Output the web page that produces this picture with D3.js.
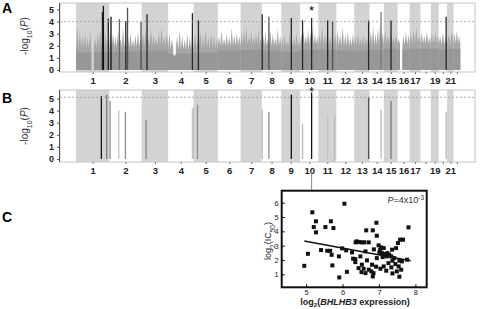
<!DOCTYPE html>
<html>
<head>
<meta charset="utf-8">
<script src="https://cdnjs.cloudflare.com/ajax/libs/d3/7.8.5/d3.min.js"></script>
<style>
  body { margin: 0; background: #fff; }
  svg { display: block; font-family: Arial, "Liberation Sans", sans-serif; }
</style>
</head>
<body>
<div id="chart"></div>
<script>
"use strict"

// chromosome lengths (Mb) and labels
let chromLengths = [249, 243, 198, 191, 181, 171, 159, 146, 141, 136, 135, 134, 115, 107, 103, 90, 81, 78, 59, 63, 48, 51];
let chromLabels = ["1", "2", "3", "4", "5", "6", "7", "8", "9", "10", "11", "12", "13", "14", "15", "16", "17", "", "19", "", "21", ""];

// panel A dense background: base level and local peaks per chromosome
let denseBase = [1.8, 1.9, 2.0, 1.7, 1.8, 2.0, 2.1, 2.0, 1.9, 2.1, 2.1, 2.0, 2.0, 2.1, 2.2, 2.1, 2.2, 2.2, 2.2, 2.1, 2.2, 2.2];
let densePeaks = [
    [3.6, 3.2, 2.9, 3.1, 2.7, 3.3, 0, 2.7, 3.1, 3.4, 3.0, 3.2, 2.6],
    [3.4, 3.0, 2.8, 3.2, 2.6, 3.5, 2.9, 2.7, 3.1, 2.5, 2.9, 3.2, 2.6],
    [3.0, 3.3, 2.7, 3.4, 2.9, 2.6, 3.1, 3.5, 2.8, 3.0],
    [3.1, 2.6, 1.2, 2.8, 3.3, 2.9, 2.5, 3.0, 2.7, 3.2],
    [3.0, 2.6, 3.2, 2.8, 3.4, 2.7, 3.1, 2.9, 2.6],
    [2.8, 3.3, 2.6, 3.0, 2.7, 3.5, 2.9, 3.1, 2.8],
    [3.0, 3.4, 3.6, 2.8, 3.2, 2.7, 3.0, 3.3, 2.6],
    [2.9, 3.2, 2.6, 3.3, 3.0, 2.7, 3.4, 2.8],
    [2.7, 2.9, 2.4, 3.0, 2.6, 2.8, 3.1, 2.5],
    [3.0, 3.2, 2.9, 3.4, 3.1, 3.6, 3.0, 2.8],
    [3.0, 3.5, 2.9, 3.3, 2.8, 3.2, 3.0],
    [3.3, 3.0, 3.6, 2.9, 3.2, 2.7, 3.0],
    [2.8, 3.1, 2.6, 3.0, 2.7, 2.9],
    [3.2, 3.6, 3.0, 3.4, 4.0, 3.1],
    [3.2, 2.9, 3.3, 2.7, 3.0],
    [2.6, 0, 2.8, 3.2, 2.9],
    [3.0, 3.3, 3.5, 2.9],
    [3.1, 2.8, 3.2, 2.7],
    [3.2, 2.9, 3.3, 2.8],
    [2.8, 3.1, 2.7],
    [2.9, 3.2],
    [3.1, 3.3, 2.8]
];

// panel A highlighted SNPs (chromosome, position Mb, -log10 P, shade 0 dark .. 1 light)
let hitChrA  = [1, 1, 1, 2, 2, 2, 2, 2, 3, 4, 5, 8, 8, 9, 10, 10, 11, 11, 13, 14, 15, 20];
let hitPosA  = [198, 205, 242, 13, 76, 124, 137, 238, 40, 182, 36, 3, 53, 75, 18, 86, 70, 107, 108, 86, 54, 56];
let hitValA  = [4.8, 5.3, 4.25, 4.4, 4.2, 4.05, 5.15, 4.0, 4.6, 4.7, 4.1, 4.6, 4.4, 4.3, 4.1, 4.3, 4.1, 4.0, 4.1, 4.8, 4.1, 4.4];
let hitToneA = [0.1, 0, 0.1, 0, 0.4, 0.1, 0.3, 0.3, 0.1, 0.1, 0.1, 0.1, 0.3, 0.1, 0.1, 0.1, 0.1, 0.3, 0.1, 0.5, 0.1, 0.1];

// panel B SNPs
let hitChrB  = [1, 1, 2, 2, 2, 3, 4, 4, 5, 8, 8, 9, 10, 10, 11, 11, 13, 14, 15, 20];
let hitPosB  = [190, 230, 6, 71, 121, 33, 182, 189, 29, 3, 53, 75, 18, 86, 70, 122, 108, 86, 54, 56];
let hitValB  = [5.2, 5.3, 4.8, 4.0, 3.9, 3.2, 4.1, 4.3, 4.5, 4.1, 3.9, 5.3, 2.9, 5.5, 3.7, 3.6, 5.1, 4.1, 4.8, 3.9];
let hitToneB = [0, 0.5, 0.6, 0.85, 0.6, 0.55, 0.85, 0.85, 0.6, 0.8, 0.6, 0, 0.8, 0, 0.85, 0.8, 0.3, 0.8, 0.5, 0.8];

let thresholdA = 4.0;
let thresholdB = 5.1;
let markedChr = 10, markedPos = 86;

// panel C scatter: log2 BHLHB3 expression vs log2 IC50
let exprX = [6.05, 5.17, 5.27, 5.68, 5.21, 5.53, 5.75, 5.27, 6.36, 5.99, 6.10, 5.41, 5.58, 5.66, 5.05, 5.70, 5.90, 6.29, 6.35, 4.95, 5.72, 6.12, 5.91,
    7.81, 6.65, 6.83, 6.93, 6.94, 6.39, 6.46, 6.53, 6.60, 6.72, 7.58, 7.66, 7.52, 6.99, 7.06, 7.13, 7.03, 6.86, 6.63, 7.36, 7.47, 6.26,
    7.01, 7.08, 7.15, 7.23, 7.28, 7.21, 7.34, 7.42, 7.10, 6.94, 6.49, 6.35, 6.67, 7.37, 7.56, 7.63, 7.77, 7.26, 7.45, 6.81, 6.53, 6.44,
    6.58, 6.92, 7.04, 7.13, 7.54, 7.34, 6.72, 6.79, 6.85, 7.20, 7.37, 7.49, 7.61, 6.63, 6.52, 6.83, 7.56];
let ic50Y = [5.93, 5.33, 4.70, 4.70, 4.30, 4.30, 4.23, 3.93, 3.23, 2.81, 2.67, 2.69, 2.64, 2.64, 2.43, 2.36, 2.25, 2.09, 1.85, 1.59, 1.62, 1.17, 0.78,
    4.28, 4.07, 4.07, 4.60, 3.69, 3.30, 3.25, 3.23, 3.23, 3.23, 3.42, 3.42, 3.18, 3.02, 2.88, 2.83, 2.69, 2.74, 2.60, 2.72, 2.83, 2.53,
    2.53, 2.48, 2.41, 2.48, 2.37, 2.25, 2.25, 2.13, 2.20, 2.13, 2.25, 2.06, 1.97, 1.95, 1.95, 1.90, 2.02, 1.78, 1.71, 1.67, 1.67, 1.43,
    1.39, 1.53, 1.39, 1.55, 1.55, 1.48, 1.32, 1.20, 1.08, 1.25, 1.06, 1.20, 1.32, 1.08, 1.15, 0.85, 0.83];
let fitX = [4.95, 7.87];
let fitY = [3.32, 1.94];

let yTicksAB = [0, 1, 2, 3, 4, 5];
let xTicksC = [5, 6, 7, 8];
let yTicksC = [1, 2, 3, 4, 5, 6];

// ---------------------------------------------------------------
let svg = d3.select("#chart").append("svg")
    .attr("width", 480)
    .attr("height", 309);

let chromStart = [];
let acc = 0;
for (let len of chromLengths) {
    chromStart.push(acc);
    acc += len;
}
let genomeLength = acc;

let x = d3.scaleLinear()
    .domain([-120, genomeLength + 110])
    .range([60, 475]);

let shade = d3.scaleLinear()
    .domain([0, 1])
    .range(["#111111", "#e2e2e2"]);

let intFmt = d3.format("d");

function gpos(chr, pos) {
    return chromStart[chr - 1] + pos;
}

function drawManhattan(top, bottom, y, showDense, chrs, poss, vals, tones, threshold, label, labelY) {
    let g = svg.append("g");

    // shaded odd chromosomes
    chromLengths.forEach(function(len, i) {
        if (i % 2 === 0 && i < 21) {
            g.append("rect")
                .attr("x", x(chromStart[i]))
                .attr("y", top)
                .attr("width", x(chromStart[i] + len) - x(chromStart[i]))
                .attr("height", bottom - top)
                .style("fill", "#d3d3d3");
        }
    });

    if (showDense) {
        // spiky dense area built from bin peaks
        chromLengths.forEach(function(len, i) {
            let pts = [];
            let peaks = densePeaks[i];
            let w = len / peaks.length;
            for (let j = 0; j < peaks.length; j++) {
                let s = chromStart[i] + j * w;
                let base = Math.min(denseBase[i], peaks[j]);
                pts.push([s, base]);
                pts.push([s + w * 0.5, peaks[j]]);
                pts.push([s + w, base]);
            }
            let area = d3.area()
                .x(d => x(d[0]))
                .y0(y(0))
                .y1(d => y(d[1]));
            g.append("path")
                .attr("d", area(pts))
                .style("fill", "#a6a6a6");
            // solid lower part
            g.append("path")
                .attr("d", area(pts.map(d => [d[0], Math.min(d[1], denseBase[i] * 0.8)])))
                .style("fill", "#979797");
        });
    }

    // highlighted SNP lines
    for (let k = 0; k < chrs.length; k++) {
        let px = x(gpos(chrs[k], poss[k]));
        g.append("line")
            .attr("x1", px).attr("x2", px)
            .attr("y1", y(0)).attr("y2", y(vals[k]))
            .style("stroke", shade(tones[k]))
            .style("stroke-width", 1.3);
    }

    // threshold
    g.append("line")
        .attr("x1", 60).attr("x2", 475)
        .attr("y1", y(threshold)).attr("y2", y(threshold))
        .style("stroke", "#9a9a9a")
        .style("stroke-width", 0.8)
        .style("stroke-dasharray", "2,2");

    // frame
    g.append("rect")
        .attr("x", 60).attr("y", top)
        .attr("width", 415).attr("height", bottom - top)
        .style("fill", "none")
        .style("stroke", "#c4c4c4")
        .style("stroke-width", 1);

    // y axis
    let yAxis = d3.axisLeft(y).tickValues(yTicksAB).tickFormat(intFmt).tickSize(3).tickPadding(3);
    let ya = g.append("g")
        .attr("transform", "translate(60,0)")
        .call(yAxis);
    ya.select(".domain").attr("d", "M-0.5," + top + "V" + bottom).style("stroke", "#555");
    ya.selectAll(".tick line").style("stroke", "#555");
    ya.selectAll("text")
        .style("font-size", "9px")
        .style("font-weight", "bold")
        .style("fill", "#222");

    // x axis: chromosome labels at centres
    let centres = chromLengths.map((len, i) => chromStart[i] + len / 2);
    let xAxis = d3.axisBottom(x)
        .tickValues(centres)
        .tickFormat((d, i) => chromLabels[i])
        .tickSize(2)
        .tickPadding(3);
    let xa = g.append("g")
        .attr("transform", "translate(0," + bottom + ")")
        .call(xAxis);
    xa.select(".domain").remove();
    xa.selectAll(".tick line").style("stroke", "#777");
    xa.selectAll("text")
        .style("font-size", "9.5px")
        .style("font-weight", "bold")
        .style("fill", "#222");

    // y title
    let yt = svg.append("text")
        .attr("transform", "translate(28," + labelY + ") rotate(-90)")
        .style("text-anchor", "middle")
        .style("font-size", "10px")
        .style("fill", "#333");
    yt.append("tspan").text("-log");
    yt.append("tspan").attr("baseline-shift", "sub").style("font-size", "7px").text("10");
    yt.append("tspan").text("(");
    yt.append("tspan").style("font-style", "italic").text("P");
    yt.append("tspan").text(")");

    // panel letter
    svg.append("text")
        .attr("x", 2)
        .attr("y", label.y)
        .style("font-size", "14px")
        .style("font-weight", "bold")
        .text(label.text);
}

let yA = d3.scaleLinear().domain([0, 5]).range([70, 9.5]);
let yB = d3.scaleLinear().domain([0, 5]).range([159, 98.5]);

drawManhattan(3, 72, yA, true, hitChrA, hitPosA, hitValA, hitToneA, thresholdA, { text: "A", y: 13 }, 36);
drawManhattan(90, 162, yB, false, hitChrB, hitPosB, hitValB, hitToneB, thresholdB, { text: "B", y: 103 }, 126);

// asterisks over the marked SNP
let markX = x(gpos(markedChr, markedPos));
svg.append("text").attr("x", markX).attr("y", 15)
    .style("text-anchor", "middle").style("font-size", "13px").text("*");
svg.append("text").attr("x", markX).attr("y", 95.5)
    .style("text-anchor", "middle").style("font-size", "12px").text("*");

// connector down to panel C
svg.append("line")
    .attr("x1", markX).attr("x2", markX)
    .attr("y1", 171).attr("y2", 190)
    .style("stroke", "#888")
    .style("stroke-width", 1);

// ---------------- panel C ----------------
let xC = d3.scaleLinear().domain([4.33, 8.31]).range([281.7, 426.7]);
let yC = d3.scaleLinear().domain([0.09, 6.84]).range([287.3, 190.7]);

svg.append("text")
    .attr("x", 2).attr("y", 222)
    .style("font-size", "14px")
    .style("font-weight", "bold")
    .text("C");

let gc = svg.append("g");

let xaC = gc.append("g")
    .attr("transform", "translate(0,287.3)")
    .call(d3.axisBottom(xC).tickValues(xTicksC).tickFormat(intFmt).tickSize(-3).tickPadding(2));
let yaC = gc.append("g")
    .attr("transform", "translate(281.7,0)")
    .call(d3.axisLeft(yC).tickValues(yTicksC).tickFormat(intFmt).tickSize(-3).tickPadding(3));
[xaC, yaC].forEach(function(a) {
    a.select(".domain").remove();
    a.selectAll("text").style("font-size", "7.5px").style("fill", "#222");
});

gc.selectAll(".pt")
    .data(exprX.map((d, i) => [d, ic50Y[i]]))
    .enter().append("rect")
    .attr("class", "pt")
    .attr("x", d => xC(d[0]) - 2)
    .attr("y", d => yC(d[1]) - 2)
    .attr("width", 4)
    .attr("height", 4)
    .style("fill", "#111");

gc.append("line")
    .attr("x1", xC(fitX[0])).attr("y1", yC(fitY[0]))
    .attr("x2", xC(fitX[1])).attr("y2", yC(fitY[1]))
    .style("stroke", "#111")
    .style("stroke-width", 1.6);

gc.append("rect")
    .attr("x", 281.7).attr("y", 190.7)
    .attr("width", 145).attr("height", 96.6)
    .style("fill", "none")
    .style("stroke", "#111")
    .style("stroke-width", 2);

let pt = gc.append("text")
    .attr("x", 424).attr("y", 203)
    .style("text-anchor", "end")
    .style("font-size", "9px")
    .style("fill", "#333");
pt.append("tspan").style("font-style", "italic").text("P");
pt.append("tspan").text("=4x10");
pt.append("tspan").attr("baseline-shift", "super").style("font-size", "6.5px").text("-3");

let xt = gc.append("text")
    .attr("x", 355).attr("y", 305)
    .style("text-anchor", "middle")
    .style("font-size", "9px")
    .style("font-weight", "bold")
    .style("fill", "#222");
xt.append("tspan").text("log");
xt.append("tspan").attr("baseline-shift", "-1.5px").style("font-size", "6px").text("2");
xt.append("tspan").text("(");
xt.append("tspan").style("font-style", "italic").text("BHLHB3");
xt.append("tspan").text(" expression)");

let ytC = gc.append("text")
    .attr("transform", "translate(271,241) rotate(-90)")
    .style("text-anchor", "middle")
    .style("font-size", "9px")
    .style("fill", "#222");
ytC.append("tspan").text("log");
ytC.append("tspan").attr("baseline-shift", "sub").style("font-size", "6.5px").text("2");
ytC.append("tspan").text("(IC");
ytC.append("tspan").attr("baseline-shift", "sub").style("font-size", "6.5px").text("50");
ytC.append("tspan").text(")");
</script>
</body>
</html>
